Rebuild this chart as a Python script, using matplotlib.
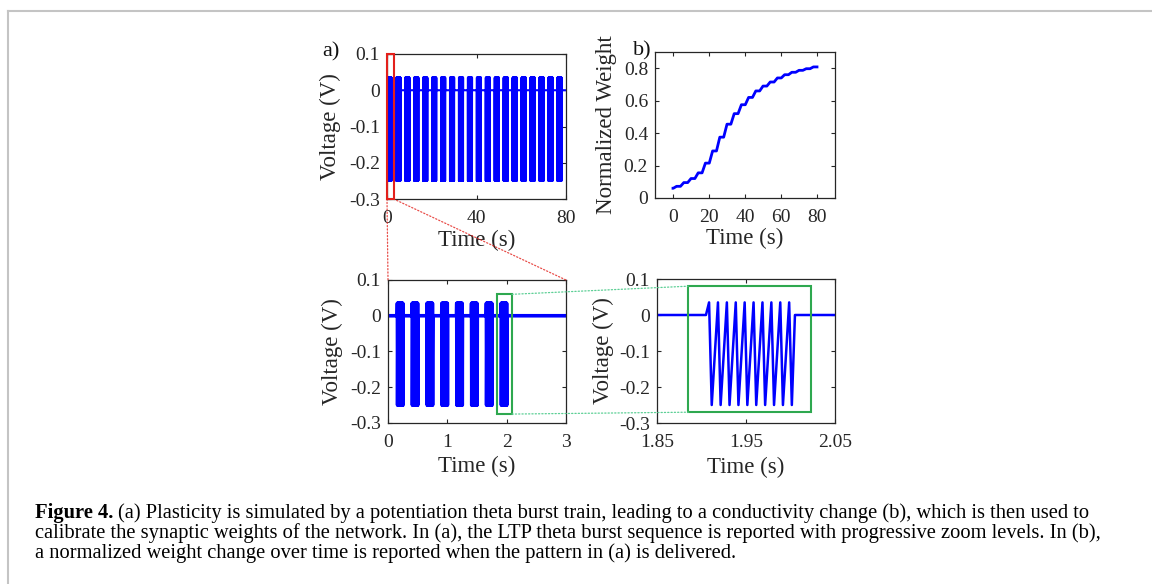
import numpy as np
import matplotlib
matplotlib.use("Agg")
import matplotlib.pyplot as plt
from matplotlib.patches import Rectangle, ConnectionPatch
from matplotlib.lines import Line2D

plt.rcParams['font.family'] = 'Liberation Serif'
plt.rcParams['axes.unicode_minus'] = False

# stimulation protocol (theta burst train)
n_trains = 20
train_period = 4.0      # s
first_burst = 0.155     # s
n_bursts = 8
burst_period = 0.25     # s
n_pulses = 10
pulse_period = 0.01     # s
v_peak = 0.035          # V
v_trough = -0.25        # V
t_end = 80.0

# normalized weight before the first train and after each train
weight = [0.06, 0.072, 0.095, 0.12, 0.155, 0.215, 0.29, 0.375, 0.455, 0.52,
          0.575, 0.62, 0.66, 0.69, 0.715, 0.74, 0.76, 0.775, 0.787, 0.797, 0.808]

volt_ticks = [-0.3, -0.2, -0.1, 0, 0.1]
volt_labels = ['-0.3', '-0.2', '-0.1', '0', '0.1']
w_ticks = [0, 0.2, 0.4, 0.6, 0.8]
w_labels = ['0', '0.2', '0.4', '0.6', '0.8']
xt_a = [0, 40, 80]
xt_b = [0, 20, 40, 60, 80]
xt_c = [0, 1, 2, 3]
xt_d = [1.85, 1.95, 2.05]
xl_d = ['1.85', '1.95', '2.05']

# zoom boxes (data coords)
red_box = [0, 3, -0.3, 0.1]
green_box_c = [1.84, 2.09, -0.275, 0.06]
green_box_d = [1.885, 2.023, -0.27, 0.08]

caption = [
    "(a) Plasticity is simulated by a potentiation theta burst train, leading to a conductivity change (b), which is then used to",
    "calibrate the synaptic weights of the network. In (a), the LTP theta burst sequence is reported with progressive zoom levels. In (b),",
    "a normalized weight change over time is reported when the pattern in (a) is delivered.",
]

# build the voltage trace
t = [0.0]
v = [0.0]
for k in range(n_trains):
    for j in range(n_bursts):
        b = k * train_period + first_burst + j * burst_period
        t.append(b); v.append(0.0)
        for p in range(n_pulses):
            tp = b + 0.0035 + p * pulse_period
            t += [tp, tp + 0.003]
            v += [v_peak, v_trough]
        t.append(b + 0.1); v.append(0.0)
t.append(t_end); v.append(0.0)
t = np.array(t); v = np.array(v)

# weight staircase: rises during each train, flat in between
wt = [0.0]
wv = [weight[0]]
for k in range(n_trains):
    s = k * train_period + first_burst
    wt += [s, s + (n_bursts - 1) * burst_period + 0.1]
    wv += [weight[k], weight[k + 1]]
wt.append(t_end); wv.append(weight[-1])

W, H = 1152, 584
fig = plt.figure(figsize=(W / 100, H / 100), dpi=100)

def px(l, r, top, bot):
    return [l / W, 1 - bot / H, (r - l) / W, (bot - top) / H]

ax1 = fig.add_axes(px(387, 566, 54, 199))
ax2 = fig.add_axes(px(655, 835, 52, 198))
ax3 = fig.add_axes(px(388, 566, 280, 423))
ax4 = fig.add_axes(px(657, 835, 279, 423))

def style(ax):
    ax.tick_params(direction='in', top=True, right=True, length=3, width=0.8,
                   labelsize=14, colors='#262626')
    ax.tick_params(axis='x', pad=8)
    ax.tick_params(axis='y', pad=5)
    for s in ax.spines.values():
        s.set_linewidth(0.9)
        s.set_color('#262626')

blue = '#0000ff'
for ax, lw in ((ax1, 1.5), (ax3, 2.6), (ax4, 1.8)):
    ax.plot(t, v, color=blue, lw=lw)
    ax.set_ylim(-0.3, 0.1)
    ax.set_yticks(volt_ticks)
    ax.set_yticklabels(volt_labels)
    ax.set_ylabel('Voltage (V)', fontsize=16.5, color='#262626')
    ax.set_xlabel('Time (s)', fontsize=16.5, color='#262626')
    style(ax)

ax1.set_xlim(0, 80)
ax1.set_xticks(xt_a)
ax3.set_xlim(0, 3)
ax3.set_xticks(xt_c)
ax4.set_xlim(1.85, 2.05)
ax4.set_xticks(xt_d)
ax4.set_xticklabels(xl_d)

ax2.plot(wt, wv, color=blue, lw=2)
ax2.set_xlim(-10, 90)
ax2.set_ylim(0, 0.9)
ax2.set_xticks(xt_b)
ax2.set_yticks(w_ticks)
ax2.set_yticklabels(w_labels)
ax2.set_ylabel('Normalized Weight', fontsize=16.5, color='#262626')
ax2.set_xlabel('Time (s)', fontsize=16.5, color='#262626')
style(ax2)

ax1.yaxis.set_label_coords(-0.259, 0.5)
ax2.yaxis.set_label_coords(-0.209, 0.5)
ax3.yaxis.set_label_coords(-0.252, 0.5)
ax4.yaxis.set_label_coords(-0.243, 0.5)
ax1.xaxis.set_label_coords(0.5, -0.21)
ax2.xaxis.set_label_coords(0.5, -0.205)
ax3.xaxis.set_label_coords(0.5, -0.232)
ax4.xaxis.set_label_coords(0.5, -0.232)

# zoom boxes and connectors
red = '#e3201b'
green = '#2ea84f'
ax1.add_patch(Rectangle((red_box[0], red_box[2]), red_box[1] - red_box[0],
                        red_box[3] - red_box[2], fill=False, ec=red, lw=1.5,
                        clip_on=False, zorder=5))
ax3.add_patch(Rectangle((green_box_c[0], green_box_c[2]), green_box_c[1] - green_box_c[0],
                        green_box_c[3] - green_box_c[2], fill=False, ec=green, lw=1.5, zorder=5))
ax4.add_patch(Rectangle((green_box_d[0], green_box_d[2]), green_box_d[1] - green_box_d[0],
                        green_box_d[3] - green_box_d[2], fill=False, ec=green, lw=1.5, zorder=5))

for xa, xb in [(red_box[0], 0), (red_box[1], 3)]:
    fig.add_artist(ConnectionPatch(xyA=(xa, red_box[2]), coordsA=ax1.transData,
                                   xyB=(xb, 0.1), coordsB=ax3.transData,
                                   color=red, ls=':', lw=0.9, alpha=0.8))
for ya, yb in [(green_box_c[3], green_box_d[3]), (green_box_c[2], green_box_d[2])]:
    fig.add_artist(ConnectionPatch(xyA=(green_box_c[1], ya), coordsA=ax3.transData,
                                   xyB=(green_box_d[0], yb), coordsB=ax4.transData,
                                   color='#5ccf95', ls=':', lw=0.9))

fig.text(331 / W, 1 - 52 / H, 'a)', fontsize=16, ha='center', va='center', color='#111111')
fig.text(642 / W, 1 - 51 / H, 'b)', fontsize=16, ha='center', va='center', color='#111111')

# frame
fig.add_artist(Line2D([7.5 / W, 7.5 / W], [0, 1 - 10.5 / H], color='#c4c4c4', lw=1.5))
fig.add_artist(Line2D([7.5 / W, 1], [1 - 10.5 / H, 1 - 10.5 / H], color='#c4c4c4', lw=1.5))

# caption
cap_x = 35 / W
cap_y = [513, 533, 553]
cap_size = 14.8
fig.canvas.draw()
r = fig.canvas.get_renderer()
lab = fig.text(cap_x, 1 - cap_y[0] / H, 'Figure 4.', fontsize=cap_size, weight='bold',
               ha='left', va='center')
bb = lab.get_window_extent(renderer=r)
fig.text((bb.x1 + 5) / W, 1 - cap_y[0] / H, caption[0], fontsize=cap_size, ha='left', va='center')
for line, y in zip(caption[1:], cap_y[1:]):
    fig.text(cap_x, 1 - y / H, line, fontsize=cap_size, ha='left', va='center')

fig.savefig('out.png', dpi=100)
